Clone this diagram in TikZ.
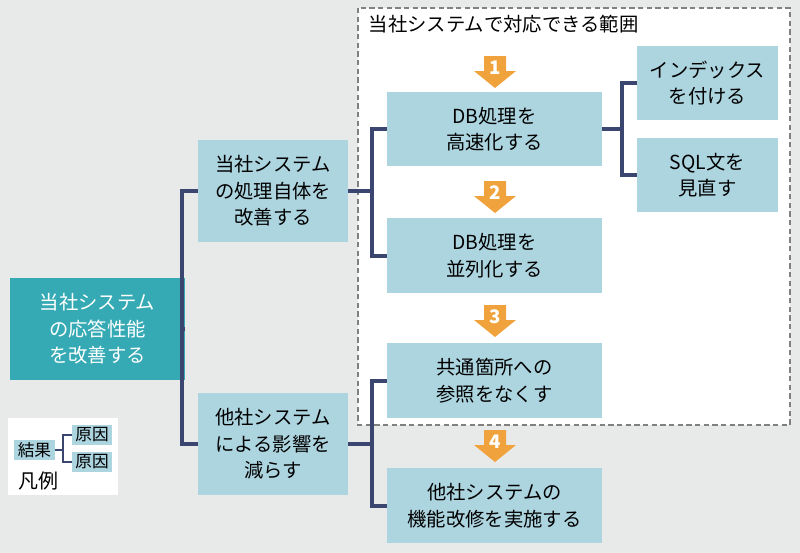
\documentclass[tikz,border=0pt]{standalone}
\usepackage{fontspec}
\setmainfont{Noto Sans CJK JP}
\usetikzlibrary{calc}
\definecolor{bg}{HTML}{E8E9E9}
\definecolor{cause}{HTML}{ADD5E0}
\definecolor{result}{HTML}{35AAB5}
\definecolor{navy}{HTML}{3A4670}
\definecolor{step}{HTML}{F0A23C}
\tikzset{
  box/.style={fill=cause,align=center,font=\fontsize{14.5}{20}\selectfont,inner sep=0pt},
  tie/.style={draw=navy,line width=3pt},
  stepmark/.style={fill=step},
}
\newcommand{\stepat}[3]{% x, y top, number
  \fill[stepmark] (#1-11,#2) -- (#1+11,#2) -- (#1+11,#2+15) -- (#1+21,#2+15) -- (#1,#2+32) -- (#1-21,#2+15) -- (#1-11,#2+15) -- cycle;
  \node[text=white,font=\bfseries\fontsize{14}{14}\selectfont] at (#1,#2+12) {#3};}
\begin{document}
\begin{tikzpicture}[x=0.75pt,y=-0.75pt]
  \fill[bg] (0,0) rectangle (800,553);
  \useasboundingbox (0,0) rectangle (800,553);
  \draw[gray,dashed,line width=1.2pt,fill=white,dash pattern=on 4pt off 2.5pt] (358,8) rectangle (790,425);
  \node[anchor=west,font=\fontsize{14.5}{16}\selectfont] (scope) at (364,24) {当社システムで対応できる範囲};
  % boxes
  \node[box,fill=result,text=white,minimum width=131pt,minimum height=76pt] (goal) at (97.5,329) {当社システム\\の応答性能\\を改善する};
  \node[box,minimum width=112pt,minimum height=77pt] (own) at (273,191) {当社システム\\の処理自体を\\改善する};
  \node[box,minimum width=112pt,minimum height=77pt] (other) at (273,444) {他社システム\\による影響を\\減らす};
  \node[box,minimum width=161pt,minimum height=56pt] (fast) at (494.5,129) {DB処理を\\高速化する};
  \node[box,minimum width=161pt,minimum height=56pt] (para) at (494.5,255.5) {DB処理を\\並列化する};
  \node[box,minimum width=161pt,minimum height=56pt] (share) at (494.5,380.5) {共通箇所への\\参照をなくす};
  \node[box,minimum width=161pt,minimum height=56pt] (fix) at (494.5,505.5) {他社システムの\\機能改修を実施する};
  \node[box,minimum width=106pt,minimum height=56pt] (index) at (707.5,83) {インデックス\\を付ける};
  \node[box,minimum width=106pt,minimum height=56pt] (sql) at (707.5,175) {SQL文を\\見直す};
  % connectors
  \draw[tie] (goal.east) -- (182,329);
  \draw[tie] (own.west) -| (182,444) -- (other.west);
  \draw[tie] (own.east) -- (372,191);
  \draw[tie] (fast.west) -| (372,255.5) -- (para.west);
  \draw[tie] (other.east) -- (372,444);
  \draw[tie] (share.west) -| (372,505.5) -- (fix.west);
  \draw[tie] (fast.east) -- (622,129);
  \draw[tie] (index.west) -| (622,175) -- (sql.west);
  % steps
  \stepat{495}{56}{1}
  \stepat{495}{181}{2}
  \stepat{495}{305}{3}
  \stepat{495}{430}{4}
  % legend
  \fill[white] (8,418) rectangle (118,495);
  \node[box,font=\fontsize{12.5}{13}\selectfont,minimum width=31pt,minimum height=15pt] (res) at (34.5,450) {結果};
  \node[box,font=\fontsize{12.5}{13}\selectfont,minimum width=30pt,minimum height=15pt] (c1) at (92,435) {原因};
  \node[box,font=\fontsize{12.5}{13}\selectfont,minimum width=30pt,minimum height=15pt] (c2) at (92,462) {原因};
  \draw[navy,line width=0.8pt] (res.east) -- (63,450);
  \draw[navy,line width=0.8pt] (c1.west) -| (63,462) -- (c2.west);
  \node[font=\fontsize{15}{16}\selectfont] (key) at (38,481) {凡例};
\end{tikzpicture}
\end{document}
